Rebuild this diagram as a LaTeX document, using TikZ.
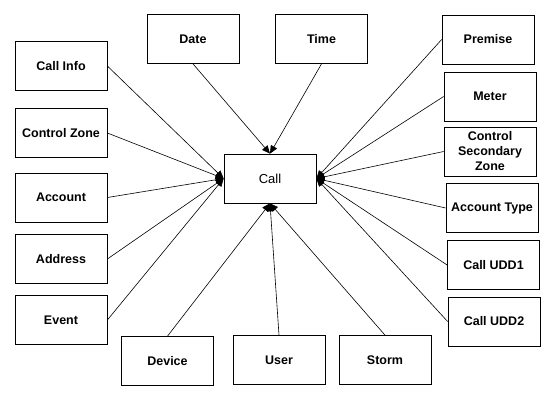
\documentclass[tikz,border=0pt]{standalone}
\usepackage{fontspec}
\setmainfont{Liberation Sans}
\usetikzlibrary{arrows.meta}
\begin{document}
\begin{tikzpicture}[x=1pt,y=-1pt,
  box/.style={draw,line width=0.75pt,minimum width=92pt,minimum height=49pt,inner sep=0pt,align=center,font=\bfseries\fontsize{12.5}{15}\selectfont},
  conn/.style={line width=0.6pt,-{Triangle[length=8pt,width=7pt]}}]
\useasboundingbox (0,0) rectangle (554,400);
\node[box,font=\fontsize{13}{15}\selectfont] (call) at (270,178.5) {Call};
\node[box] (ci) at (61,66) {Call Info};
\node[box] (cz) at (61,133) {Control Zone};
\node[box] (acc) at (61,197.5) {Account};
\node[box] (addr) at (61,259) {Address};
\node[box] (ev) at (61,320) {Event};
\node[box] (date) at (193,39) {Date};
\node[box] (time) at (321.5,39) {Time};
\node[box] (prem) at (488,39.5) {Premise};
\node[box] (met) at (490,96.5) {Meter};
\node[box] (csz) at (490,151.5) {Control\\Secondary\\Zone};
\node[box] (at) at (492,208) {Account Type};
\node[box] (u1) at (493.5,265) {Call UDD1};
\node[box] (u2) at (494,321.5) {Call UDD2};
\node[box] (dev) at (167.5,361) {Device};
\node[box] (user) at (279,360) {User};
\node[box] (storm) at (385,360) {Storm};
\foreach \n in {ci,cz,acc,addr,ev} \draw[conn] (\n.east) -- (call.west);
\foreach \n in {prem,met,csz,at,u1,u2} \draw[conn] (\n.west) -- (call.east);
\foreach \n in {date,time} \draw[conn] (\n.south) -- (call.north);
\foreach \n in {dev,user,storm} \draw[conn] (\n.north) -- (call.south);
\end{tikzpicture}
\end{document}
